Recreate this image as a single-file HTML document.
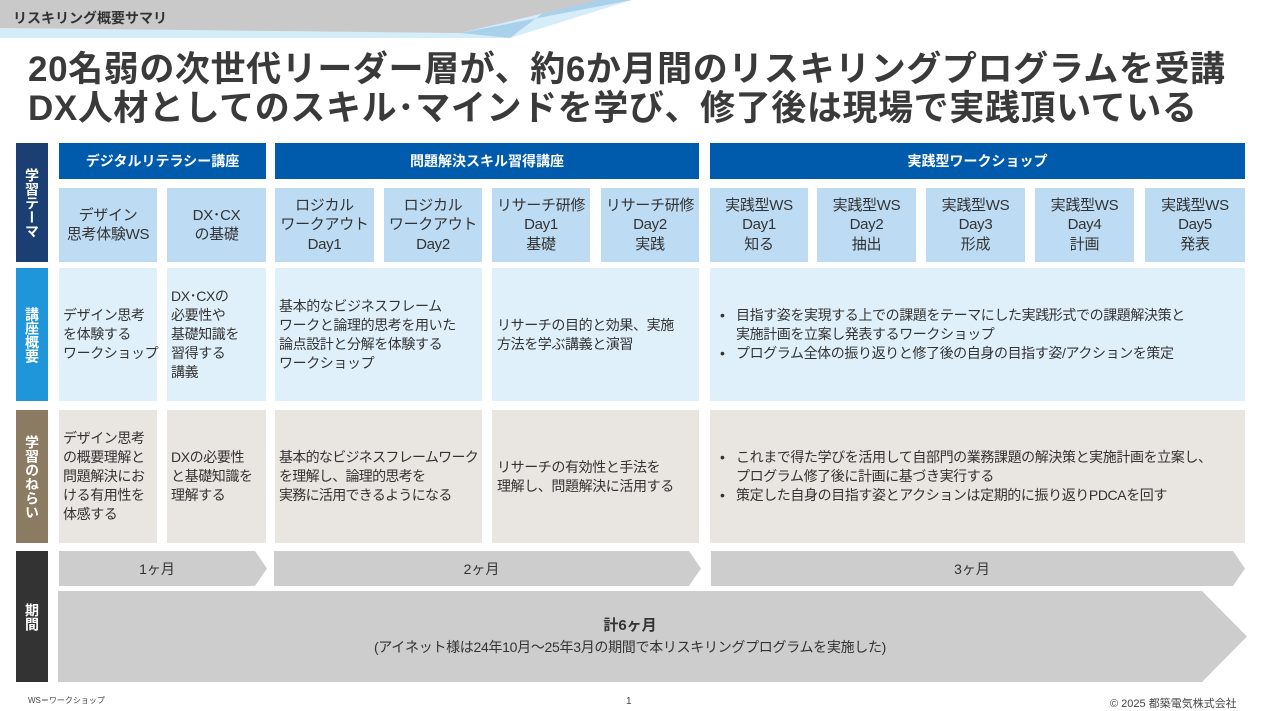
<!DOCTYPE html>
<html><head><meta charset="utf-8"><style>
*{margin:0;padding:0;box-sizing:border-box}
body{width:1262px;height:707px;position:relative;background:#fff;font-family:"Liberation Sans","Noto Sans CJK JP",sans-serif;overflow:hidden;color:#333}
.a{position:absolute}
.c{display:flex;align-items:center;justify-content:center;text-align:center}
.th{background:#005bac;color:#fff;font-weight:bold;font-size:14px}
.tc{background:#bddcf4;font-size:15px;line-height:19.5px;color:#333;white-space:nowrap;letter-spacing:-0.3px}
.r2,.r3{font-size:14px;line-height:19px;display:flex;align-items:center;padding-left:8px;white-space:nowrap;letter-spacing:-0.4px}
.r2{background:#e0f0fb}
.r3{background:#e9e5e1}
.lab{color:#fff;font-weight:bold;font-size:14px;writing-mode:vertical-rl;text-orientation:upright;display:flex;align-items:center;justify-content:center;letter-spacing:0}
ul{list-style:none}
li{position:relative;padding-left:20px}
li:before{content:"•";position:absolute;left:4px;top:0}
</style></head><body>
<svg class="a" style="left:0;top:0" width="640" height="40">
<polygon points="0,0 632,0 510,38 0,38" fill="#d5ecf9"/>
<polygon points="460,33 632,0 560,0 510,38" fill="#a9d1ec"/>
<polygon points="0,0 600,0 460,33 0,28" fill="#c9c9c9"/>
</svg>
<div class="a" style="left:13px;top:8px;font-size:14px;font-weight:bold;color:#333">リスキリング概要サマリ</div>
<div class="a" style="left:28px;top:50px;font-size:35px;font-weight:bold;line-height:39px;color:#3a3a3a;letter-spacing:0.6px;white-space:nowrap">20名弱の次世代リーダー層が、約6か月間のリスキリングプログラムを受講<br>DX人材としてのスキル･マインドを学び、修了後は現場で実践頂いている</div>

<div class="a lab" style="left:16px;top:143px;width:32px;height:119px;background:#1b3f73">学習テーマ</div>
<div class="a lab" style="left:16px;top:268px;width:32px;height:133px;background:#1e96d9">講座概要</div>
<div class="a lab" style="left:16px;top:410px;width:32px;height:133px;background:#8c7b63">学習のねらい</div>
<div class="a lab" style="left:16px;top:551px;width:32px;height:131px;background:#333">期間</div>

<div class="a c th" style="left:59px;top:143px;width:207px;height:36px">デジタルリテラシー講座</div>
<div class="a c th" style="left:275px;top:143px;width:424px;height:36px">問題解決スキル習得講座</div>
<div class="a c th" style="left:710px;top:143px;width:535px;height:36px">実践型ワークショップ</div>

<div class="a c tc" style="left:59px;top:188px;width:98px;height:74px">デザイン<br>思考体験WS</div>
<div class="a c tc" style="left:167px;top:188px;width:99px;height:74px">DX･CX<br>の基礎</div>
<div class="a c tc" style="left:275px;top:188px;width:99px;height:74px">ロジカル<br>ワークアウト<br>Day1</div>
<div class="a c tc" style="left:384px;top:188px;width:98px;height:74px">ロジカル<br>ワークアウト<br>Day2</div>
<div class="a c tc" style="left:492px;top:188px;width:98px;height:74px">リサーチ研修<br>Day1<br>基礎</div>
<div class="a c tc" style="left:601px;top:188px;width:98px;height:74px">リサーチ研修<br>Day2<br>実践</div>
<div class="a c tc" style="left:710px;top:188px;width:98px;height:74px">実践型WS<br>Day1<br>知る</div>
<div class="a c tc" style="left:817px;top:188px;width:99px;height:74px">実践型WS<br>Day2<br>抽出</div>
<div class="a c tc" style="left:926px;top:188px;width:99px;height:74px">実践型WS<br>Day3<br>形成</div>
<div class="a c tc" style="left:1035px;top:188px;width:99px;height:74px">実践型WS<br>Day4<br>計画</div>
<div class="a c tc" style="left:1145px;top:188px;width:100px;height:74px">実践型WS<br>Day5<br>発表</div>

<div class="a r2" style="left:59px;top:268px;width:98px;height:133px;padding-left:4px">デザイン思考<br>を体験する<br>ワークショップ</div>
<div class="a r2" style="left:167px;top:268px;width:99px;height:133px;padding-left:4px">DX･CXの<br>必要性や<br>基礎知識を<br>習得する<br>講義</div>
<div class="a r2" style="left:275px;top:268px;width:207px;height:133px;padding-left:4px">基本的なビジネスフレーム<br>ワークと論理的思考を用いた<br>論点設計と分解を体験する<br>ワークショップ</div>
<div class="a r2" style="left:492px;top:268px;width:207px;height:133px;padding-left:5px">リサーチの目的と効果、実施<br>方法を学ぶ講義と演習</div>
<div class="a r2" style="left:710px;top:268px;width:535px;height:133px;padding-left:6px"><ul><li>目指す姿を実現する上での課題をテーマにした実践形式での課題解決策と<br>実施計画を立案し発表するワークショップ</li><li>プログラム全体の振り返りと修了後の自身の目指す姿/アクションを策定</li></ul></div>

<div class="a r3" style="left:59px;top:410px;width:98px;height:133px;padding-left:4px">デザイン思考<br>の概要理解と<br>問題解決にお<br>ける有用性を<br>体感する</div>
<div class="a r3" style="left:167px;top:410px;width:99px;height:133px;padding-left:4px">DXの必要性<br>と基礎知識を<br>理解する</div>
<div class="a r3" style="left:275px;top:410px;width:207px;height:133px;padding-left:4px;letter-spacing:-0.7px">基本的なビジネスフレームワーク<br>を理解し、論理的思考を<br>実務に活用できるようになる</div>
<div class="a r3" style="left:492px;top:410px;width:207px;height:133px;padding-left:5px">リサーチの有効性と手法を<br>理解し、問題解決に活用する</div>
<div class="a r3" style="left:710px;top:410px;width:535px;height:133px;padding-left:6px"><ul><li>これまで得た学びを活用して自部門の業務課題の解決策と実施計画を立案し、<br>プログラム修了後に計画に基づき実行する</li><li>策定した自身の目指す姿とアクションは定期的に振り返りPDCAを回す</li></ul></div>

<svg class="a" style="left:0;top:0" width="1262" height="707">
<polygon points="59,551 255,551 267,568.5 255,586 59,586" fill="#cdcdcd"/>
<polygon points="274,551 689,551 701,568.5 689,586 274,586" fill="#cdcdcd"/>
<polygon points="711,551 1233,551 1245,568.5 1233,586 711,586" fill="#cdcdcd"/>
<polygon points="58,591 1202,591 1247,636.5 1202,682 58,682" fill="#cdcdcd"/>
</svg>
<div class="a c" style="left:59px;top:551px;width:196px;height:35px;font-size:14px">1ヶ月</div>
<div class="a c" style="left:274px;top:551px;width:415px;height:35px;font-size:14px">2ヶ月</div>
<div class="a c" style="left:711px;top:551px;width:522px;height:35px;font-size:14px">3ヶ月</div>
<div class="a c" style="left:58px;top:614px;width:1144px;height:20px;font-size:15px;font-weight:bold">計6ヶ月</div>
<div class="a c" style="left:58px;top:637px;width:1144px;height:20px;font-size:14px;letter-spacing:-0.3px">(アイネット様は24年10月～25年3月の期間で本リスキリングプログラムを実施した)</div>

<div class="a" style="left:28px;top:695px;font-size:8px;color:#444">WS＝ワークショップ</div>
<div class="a" style="left:626px;top:696px;font-size:10px;color:#444">1</div>
<div class="a" style="left:1110px;top:695px;font-size:11px;color:#444">© 2025 都築電気株式会社</div>
</body></html>
